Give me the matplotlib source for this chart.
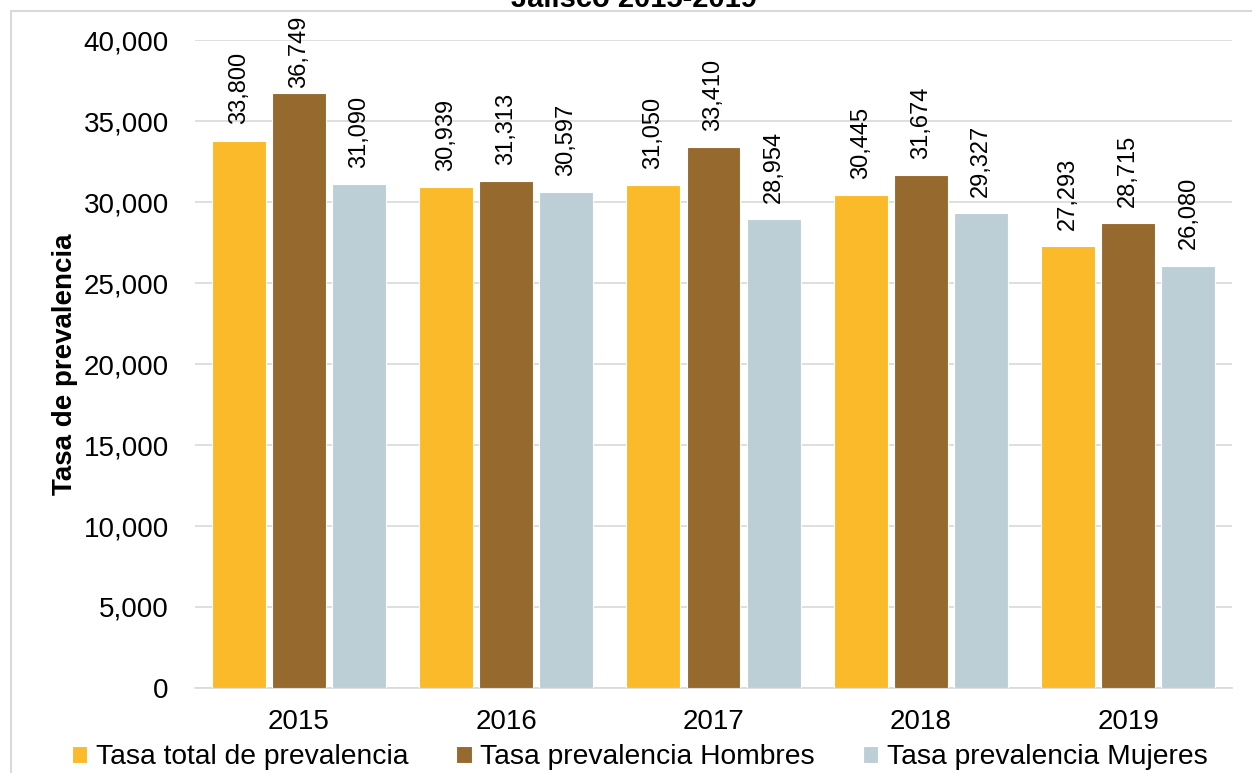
import numpy as np
import matplotlib.pyplot as plt
from matplotlib.patches import Rectangle

plt.rcParams['font.family'] = ['Liberation Sans', 'DejaVu Sans']

years = ['2015', '2016', '2017', '2018', '2019']
series_names = ['Tasa total de prevalencia', 'Tasa prevalencia Hombres', 'Tasa prevalencia Mujeres']
tasa_total = [33800, 30939, 31050, 30445, 27293]
tasa_hombres = [36749, 31313, 33410, 31674, 28715]
tasa_mujeres = [31090, 30597, 28954, 29327, 26080]
colors = ['#FBBA29', '#96692E', '#BDCFD6']


def fmt(v):
    return '{:,}'.format(v)


fig = plt.figure(figsize=(12.52, 7.73), dpi=100)
ax = fig.add_axes([0.1558, 0.110, 0.8282, 0.838])

# light frame of the chart area (partly outside the image)
fig.patches.append(Rectangle((11 / 1252, -0.1), 1.2, 1.1 - 11 / 773, transform=fig.transFigure,
                             fill=False, edgecolor='#d9d9d9', linewidth=1.5, zorder=0))

x = np.arange(len(years))
width = 0.26
step = 0.29
all_series = [tasa_total, tasa_hombres, tasa_mujeres]

for i, (vals, name, col) in enumerate(zip(all_series, series_names, colors)):
    pos = x + (i - 1) * step
    ax.bar(pos, vals, width, color=col, edgecolor='white', linewidth=0.8, label=name, zorder=3)
    for p, v in zip(pos, vals):
        # keep labels inside chart area like Excel does
        if v + 1000 + 4450 > 41500:
            ax.text(p, 41500, fmt(v), rotation=90, ha='center', va='top', fontsize=17)
        else:
            ax.text(p, v + 1000, fmt(v), rotation=90, ha='center', va='bottom', fontsize=17)

ax.set_xlim(-0.5, len(years) - 0.5)
ax.set_ylim(0, 40000)
ax.set_yticks(np.arange(0, 40001, 5000))
ax.set_yticklabels([fmt(t) for t in range(0, 40001, 5000)])
ax.set_xticks(x)
ax.set_xticklabels(years)
ax.tick_params(axis='y', length=0, pad=19, labelsize=20)
ax.tick_params(axis='x', length=0, pad=15, labelsize=20)
ax.grid(axis='y', color='#d9d9d9', linewidth=1.2, zorder=0)
for s in ['top', 'right', 'left']:
    ax.spines[s].set_visible(False)
ax.spines['bottom'].set_color('#d9d9d9')
ax.spines['bottom'].set_linewidth(1.2)
ax.set_axisbelow(True)

ax.set_ylabel('Tasa de prevalencia', fontsize=20, fontweight='bold', labelpad=4)

fig.text(634 / 1252, 1 - 7 / 773, 'Jalisco 2015-2019', ha='center', va='baseline',
         fontsize=21, fontweight='bold')

fig.legend(loc='center', bbox_to_anchor=(0.511, 1 - 757 / 773), ncol=3, frameon=False,
           fontsize=20.3, handlelength=0.55, handleheight=0.55, handletextpad=0.3,
           columnspacing=1.7, borderaxespad=0)

fig.savefig('out.png', dpi=100)
